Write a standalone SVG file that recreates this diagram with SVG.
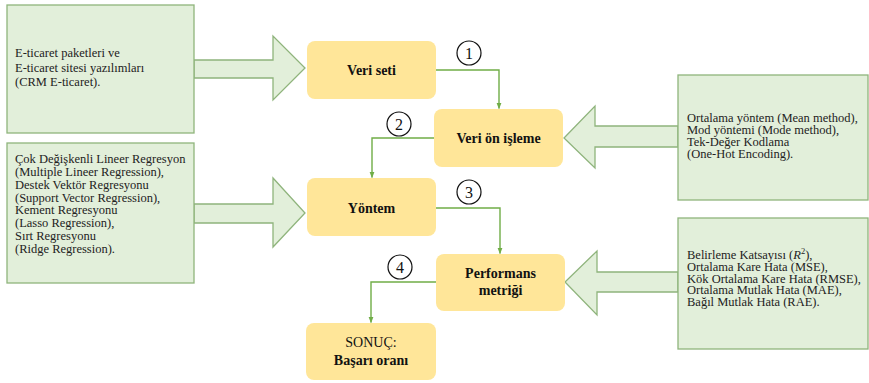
<svg xmlns="http://www.w3.org/2000/svg" width="869" height="383" viewBox="0 0 869 383">
  <style>
    .note { fill: #E2EFDA; stroke: #8FB47C; stroke-width: 1.3; }
    .block { fill: #E2EFDA; stroke: #8FB47C; stroke-width: 1.3; stroke-linejoin: miter; }
    .step { fill: #FFE699; stroke: none; }
    .txt { font-family: "Liberation Serif", "Times New Roman", serif; font-size: 12.5px; fill: #222; }
    .lbl { font-family: "Liberation Serif", "Times New Roman", serif; font-size: 14px; font-weight: bold; fill: #111; text-anchor: middle; }
    .lblr { font-family: "Liberation Serif", "Times New Roman", serif; font-size: 14px; fill: #111; text-anchor: middle; }
    .flow { fill: none; stroke: #70AD47; stroke-width: 1.4; marker-end: url(#tip); }
    .badge { fill: #fff; stroke: #111; stroke-width: 1.2; }
    .num { font-family: "Liberation Serif", "Times New Roman", serif; font-size: 16px; fill: #111; text-anchor: middle; }
  </style>
  <defs>
    <marker id="tip" viewBox="0 0 10 10" refX="9" refY="5" markerWidth="6" markerHeight="6" orient="auto" markerUnits="userSpaceOnUse">
      <path d="M0,1 L10,5 L0,9 z" fill="#70AD47"/>
    </marker>
  </defs>

  <rect width="869" height="383" fill="#fff"/>

  <!-- input block arrows -->
  <g id="arrow-data">
    <polygon class="block" points="194,60 273,60 273,36 305,68 273,100 273,78 194,78"/>
  </g>
  <g id="arrow-preprocess">
    <polygon class="block" points="678,126 595,126 595,106 564,138 595,168 595,147 678,147"/>
  </g>
  <g id="arrow-method">
    <polygon class="block" points="194,204 273,204 273,178 305,213 273,247 273,223 194,223"/>
  </g>
  <g id="arrow-metric">
    <polygon class="block" points="678,272 597,272 597,251 565,282 597,315 597,292 678,292"/>
  </g>

  <!-- side notes -->
  <g id="note-data">
    <rect class="note" x="7" y="5" width="187" height="128"/>
    <text class="txt" x="15" y="57">E-ticaret paketleri ve</text>
    <text class="txt" x="15" y="72">E-ticaret sitesi yazılımları</text>
    <text class="txt" x="15" y="86">(CRM E-ticaret).</text>
  </g>
  <g id="note-preprocess">
    <rect class="note" x="678" y="75" width="190" height="125"/>
    <text class="txt" x="687" y="122">Ortalama yöntem (Mean method),</text>
    <text class="txt" x="687" y="134">Mod yöntemi (Mode method),</text>
    <text class="txt" x="687" y="146">Tek-Değer Kodlama</text>
    <text class="txt" x="687" y="158">(One-Hot Encoding).</text>
  </g>
  <g id="note-method">
    <rect class="note" x="7" y="143" width="187" height="140"/>
    <text class="txt" x="15" y="163">Çok Değişkenli Lineer Regresyon</text>
    <text class="txt" x="15" y="176">(Multiple Lineer Regression),</text>
    <text class="txt" x="15" y="189">Destek Vektör Regresyonu</text>
    <text class="txt" x="15" y="202">(Support Vector Regression),</text>
    <text class="txt" x="15" y="214">Kement Regresyonu</text>
    <text class="txt" x="15" y="227">(Lasso Regression),</text>
    <text class="txt" x="15" y="240">Sırt Regresyonu</text>
    <text class="txt" x="15" y="253">(Ridge Regression).</text>
  </g>
  <g id="note-metric">
    <rect class="note" x="678" y="218" width="190" height="131"/>
    <text class="txt" x="687" y="259">Belirleme Katsayısı (<tspan font-style="italic">R</tspan><tspan font-size="8.5" dy="-5">2</tspan><tspan dy="5">),</tspan></text>
    <text class="txt" x="687" y="271">Ortalama Kare Hata (MSE),</text>
    <text class="txt" x="687" y="283">Kök Ortalama Kare Hata (RMSE),</text>
    <text class="txt" x="687" y="294">Ortalama Mutlak Hata (MAE),</text>
    <text class="txt" x="687" y="306">Bağıl Mutlak Hata (RAE).</text>
  </g>

  <!-- process steps -->
  <g id="step-dataset">
    <rect class="step" x="307" y="41" width="129" height="58" rx="8"/>
    <text class="lbl" x="371.5" y="75">Veri seti</text>
  </g>
  <g id="step-preprocess">
    <rect class="step" x="434" y="109" width="129" height="58" rx="8"/>
    <text class="lbl" x="498.5" y="143">Veri ön işleme</text>
  </g>
  <g id="step-method">
    <rect class="step" x="307" y="178" width="129" height="58" rx="8"/>
    <text class="lbl" x="371.5" y="213">Yöntem</text>
  </g>
  <g id="step-metric">
    <rect class="step" x="436" y="254" width="129" height="57" rx="8"/>
    <text class="lbl" x="500.5" y="278">Performans</text>
    <text class="lbl" x="500.5" y="295">metriği</text>
  </g>
  <g id="step-result">
    <rect class="step" x="306" y="323" width="130" height="57" rx="8"/>
    <text class="lblr" x="371" y="347">SONUÇ:</text>
    <text class="lbl" x="371" y="365">Başarı oranı</text>
  </g>

  <!-- connectors -->
  <g id="connectors">
    <path class="flow" d="M436,70 H499 V108.5"/>
    <path class="flow" d="M434,138 H372 V177.5"/>
    <path class="flow" d="M436,208 H500 V253.5"/>
    <path class="flow" d="M436,282 H371 V322.5"/>
  </g>

  <!-- step numbers -->
  <g id="badge-1">
    <circle class="badge" cx="469" cy="53" r="12"/>
    <text class="num" x="469" y="59">1</text>
  </g>
  <g id="badge-2">
    <circle class="badge" cx="399" cy="124" r="12"/>
    <text class="num" x="399" y="130">2</text>
  </g>
  <g id="badge-3">
    <circle class="badge" cx="469" cy="192" r="12"/>
    <text class="num" x="469" y="198">3</text>
  </g>
  <g id="badge-4">
    <circle class="badge" cx="400" cy="267" r="12"/>
    <text class="num" x="400" y="273">4</text>
  </g>
</svg>
